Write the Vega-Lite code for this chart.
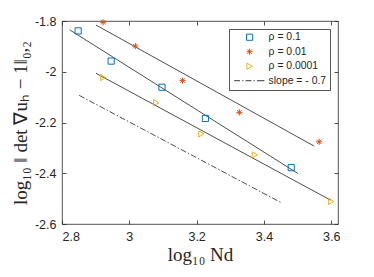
{
  "$schema": "https://vega.github.io/schema/vega-lite/v6.json",
  "width": 276,
  "height": 203,
  "autosize": {"type": "none"},
  "padding": {"left": 62, "top": 21, "right": 36, "bottom": 53},
  "background": "white",
  "config": {
    "view": {"stroke": "#262626", "strokeWidth": 0.8},
    "font": "Liberation Sans",
    "axis": {
      "grid": false,
      "domain": false,
      "tickColor": "#262626",
      "tickSize": -4,
      "tickWidth": 0.8,
      "labelColor": "#262626",
      "labelFont": "Liberation Sans",
      "labelFontSize": 12.5,
      "titleFont": "Liberation Serif",
      "titleFontWeight": "normal",
      "titleFontSize": 19,
      "titleColor": "#262626"
    },
    "legend": {
      "labelFont": "Liberation Sans",
      "labelFontSize": 10.4,
      "labelColor": "#262626"
    }
  },
  "datasets": {
    "pts": [
      {"series": "ρ = 0.1", "x": 2.848, "y": -1.839},
      {"series": "ρ = 0.1", "x": 2.946, "y": -1.958},
      {"series": "ρ = 0.1", "x": 3.097, "y": -2.061},
      {"series": "ρ = 0.1", "x": 3.226, "y": -2.184},
      {"series": "ρ = 0.1", "x": 3.481, "y": -2.378},
      {"series": "ρ = 0.01", "x": 2.922, "y": -1.805},
      {"series": "ρ = 0.01", "x": 3.018, "y": -1.899},
      {"series": "ρ = 0.01", "x": 3.158, "y": -2.035},
      {"series": "ρ = 0.01", "x": 3.327, "y": -2.160},
      {"series": "ρ = 0.01", "x": 3.564, "y": -2.276},
      {"series": "ρ = 0.0001", "x": 2.922, "y": -2.023},
      {"series": "ρ = 0.0001", "x": 3.080, "y": -2.122},
      {"series": "ρ = 0.0001", "x": 3.214, "y": -2.245},
      {"series": "ρ = 0.0001", "x": 3.373, "y": -2.328},
      {"series": "ρ = 0.0001", "x": 3.600, "y": -2.511}
    ],
    "fits": [
      {"line": "a", "x": 2.823, "y": -1.835},
      {"line": "a", "x": 3.501, "y": -2.401},
      {"line": "b", "x": 2.901, "y": -1.816},
      {"line": "b", "x": 3.549, "y": -2.293},
      {"line": "c", "x": 2.901, "y": -2.006},
      {"line": "c", "x": 3.598, "y": -2.506}
    ],
    "slope": [
      {"x": 2.851, "y": -2.093},
      {"x": 3.450, "y": -2.515}
    ]
  },
  "layer": [
    {
      "data": {"name": "fits"},
      "mark": {"type": "line", "color": "#3a3a3a", "strokeWidth": 0.9},
      "encoding": {
        "x": {
          "field": "x", "type": "quantitative",
          "scale": {"domain": [2.8, 3.62], "nice": false, "zero": false},
          "axis": {
            "orient": "bottom",
            "values": [2.8, 3, 3.2, 3.4, 3.6],
            "labelExpr": "format(datum.value, '~g')",
            "labelPadding": 10,
            "title": "log₁₀  Nd",
            "titlePadding": 3
          }
        },
        "y": {
          "field": "y", "type": "quantitative",
          "scale": {"domain": [-2.6, -1.8], "nice": false, "zero": false},
          "axis": {
            "orient": "left",
            "values": [-2.6, -2.4, -2.2, -2, -1.8],
            "labelExpr": "'-' + format(-datum.value, '~g')",
            "labelPadding": 10,
            "title": "log₁₀ ‖ det ∇uₕ − 1‖₀,₂",
            "titlePadding": 4
          }
        },
        "detail": {"field": "line"}
      }
    },
    {
      "data": {"name": "slope"},
      "mark": {"type": "line", "color": "#3a3a3a", "strokeWidth": 0.9, "strokeDash": [6, 2, 1.5, 2]},
      "encoding": {
        "x": {
          "field": "x", "type": "quantitative",
          "axis": {"orient": "top", "values": [2.8, 3, 3.2, 3.4, 3.6], "labels": false, "title": null}
        },
        "y": {
          "field": "y", "type": "quantitative",
          "axis": {"orient": "right", "values": [-2.6, -2.4, -2.2, -2, -1.8], "labels": false, "title": null}
        }
      }
    },
    {
      "data": {"name": "pts"},
      "mark": {"type": "point", "filled": false, "strokeWidth": 1, "size": 38, "opacity": 1},
      "encoding": {
        "x": {"field": "x", "type": "quantitative", "axis": null},
        "y": {"field": "y", "type": "quantitative", "axis": null},
        "color": {
          "field": "series", "type": "nominal",
          "scale": {
            "domain": ["ρ = 0.1", "ρ = 0.01", "ρ = 0.0001", "slope = - 0.7"],
            "range": ["#0072BD", "#D95319", "#EDB120", "#3a3a3a"]
          },
          "legend": {
            "title": null,
            "orient": "top-right",
            "offset": 8,
            "strokeColor": "#555555",
            "fillColor": "white",
            "padding": 3,
            "rowPadding": 3.5,
            "symbolSize": 38,
            "symbolStrokeWidth": 1,
            "symbolOffset": 12.4,
            "labelOffset": 13.8,
            "symbolFillColor": "transparent"
          }
        },
        "shape": {
          "field": "series", "type": "nominal",
          "scale": {
            "domain": ["ρ = 0.1", "ρ = 0.01", "ρ = 0.0001", "slope = - 0.7"],
            "range": [
              "square",
              "M-1,0L1,0M0,-1L0,1M-0.72,-0.72L0.72,0.72M-0.72,0.72L0.72,-0.72",
              "triangle-right",
              "M-5,0L-3.1,0M-2.4,0L-2.0,0M-1.3,0L0.6,0M1.3,0L1.7,0M2.4,0L4.8,0"
            ]
          },
          "legend": null
        }
      }
    }
  ],
  "resolve": {"axis": {"x": "independent", "y": "independent"}}
}
